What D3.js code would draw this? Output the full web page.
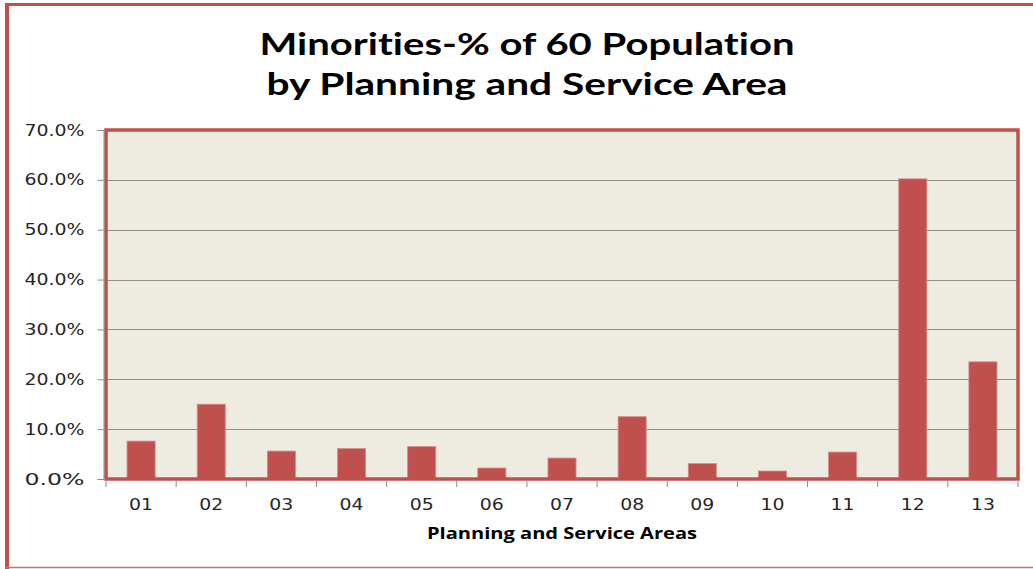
<!DOCTYPE html>
<html>
<head>
<meta charset="utf-8">
<script src="https://cdn.jsdelivr.net/npm/d3@7/dist/d3.min.js"></script>
<style>
  html, body { margin: 0; padding: 0; background: #fff; }
  svg { display: block; }
  text { font-variant-ligatures: none; }
</style>
</head>
<body>
<svg id="chart" width="1033" height="569"></svg>
<script>
// Planning and Service Areas and the minority share of their 60+ population
const areas = ["01", "02", "03", "04", "05", "06", "07", "08", "09", "10", "11", "12", "13"];
const minorityShare = [0.076, 0.150, 0.056, 0.061, 0.065, 0.022, 0.042, 0.125, 0.031, 0.016, 0.054, 0.602, 0.235];
const yTicks = [0, 0.1, 0.2, 0.3, 0.4, 0.5, 0.6, 0.7];
const titleLines = ["Minorities-% of 60 Population", "by Planning and Service Area"];
const xAxisTitle = "Planning and Service Areas";

const RED = "#C0504D";
const svg = d3.select("#chart");

const plot = { left: 106, right: 1018, top: 130, bottom: 479 };

const x = d3.scaleBand()
  .domain(areas)
  .range([plot.left, plot.right])
  .paddingInner(0.6)
  .paddingOuter(0.3);

const y = d3.scaleLinear()
  .domain([0, 0.7])
  .range([plot.bottom, plot.top]);

// outer chart frame (left, top and bottom edges)
svg.append("line").attr("x1", 7).attr("x2", 7).attr("y1", 3).attr("y2", 569)
  .attr("stroke", RED).attr("stroke-width", 4);
svg.append("line").attr("x1", 5).attr("x2", 1033).attr("y1", 4.5).attr("y2", 4.5)
  .attr("stroke", RED).attr("stroke-width", 3);
svg.append("line").attr("x1", 5).attr("x2", 1033).attr("y1", 567.5).attr("y2", 567.5)
  .attr("stroke", "#d06e6a").attr("stroke-width", 1.5);

// title
const title = svg.append("text")
  .attr("text-anchor", "middle")
  .attr("font-family", "Lato, Liberation Sans, Arial, sans-serif")
  .attr("font-weight", "bold")
  .attr("font-size", 31)
  .attr("fill", "#000");
title.append("tspan").attr("x", 527).attr("y", 55)
  .attr("textLength", 535).attr("lengthAdjust", "spacingAndGlyphs")
  .text(titleLines[0]);
title.append("tspan").attr("x", 527).attr("y", 95)
  .attr("textLength", 521).attr("lengthAdjust", "spacingAndGlyphs")
  .text(titleLines[1]);

// plot background
svg.append("rect")
  .attr("x", plot.left).attr("y", plot.top)
  .attr("width", plot.right - plot.left).attr("height", plot.bottom - plot.top)
  .attr("fill", "#EEEBE0");

// horizontal gridlines
svg.append("g")
  .selectAll("line")
  .data(yTicks.filter(t => t > 0 && t < 0.7))
  .join("line")
  .attr("x1", plot.left).attr("x2", plot.right)
  .attr("y1", d => Math.round(y(d)) + 0.5).attr("y2", d => Math.round(y(d)) + 0.5)
  .attr("stroke", "#8f8f8f").attr("stroke-width", 1.2);

// bars
svg.append("g")
  .selectAll("rect")
  .data(areas.map((a, i) => ({ area: a, value: minorityShare[i] })))
  .join("rect")
  .attr("x", d => x(d.area))
  .attr("width", x.bandwidth())
  .attr("y", d => y(d.value))
  .attr("height", d => y(0) - y(d.value))
  .attr("fill", RED)
  .attr("stroke", "#d88a87")
  .attr("stroke-width", 0.8);

// plot frame
svg.append("rect")
  .attr("x", plot.left).attr("y", plot.top)
  .attr("width", plot.right - plot.left).attr("height", plot.bottom - plot.top)
  .attr("fill", "none")
  .attr("stroke", RED).attr("stroke-width", 3.5);

// y axis
const yAxis = svg.append("g")
  .attr("transform", `translate(${plot.left - 2.5},0)`)
  .call(d3.axisLeft(y).tickValues(yTicks).tickFormat(d3.format(".1%")).tickSize(6).tickPadding(13));
yAxis.select(".domain").attr("stroke", "#8a8a8a");
yAxis.selectAll(".tick line").attr("stroke", "#8a8a8a");
yAxis.selectAll(".tick text")
  .attr("font-family", "DejaVu Sans, Verdana, sans-serif")
  .attr("font-size", 16)
  .attr("textLength", 60)
  .attr("lengthAdjust", "spacingAndGlyphs")
  .attr("fill", "#262626");

// x axis: ticks sit on category boundaries
const step = x.step();
const boundaries = areas.map(a => x(a) - (step - x.bandwidth()) / 2).concat([plot.right]);
const xAxis = svg.append("g").attr("transform", `translate(0,${plot.bottom + 2})`);
xAxis.selectAll("line.tick")
  .data(boundaries)
  .join("line")
  .attr("class", "tick")
  .attr("x1", d => d).attr("x2", d => d)
  .attr("y1", 0).attr("y2", 6)
  .attr("stroke", "#8a8a8a");
xAxis.selectAll("text")
  .data(areas)
  .join("text")
  .attr("x", d => x(d) + x.bandwidth() / 2)
  .attr("y", 29)
  .attr("text-anchor", "middle")
  .attr("font-family", "DejaVu Sans, Verdana, sans-serif")
  .attr("font-size", 16.5)
  .attr("textLength", 24)
  .attr("lengthAdjust", "spacingAndGlyphs")
  .attr("fill", "#262626")
  .text(d => d);

// x axis title
svg.append("text")
  .attr("x", 562).attr("y", 539)
  .attr("text-anchor", "middle")
  .attr("font-family", "Open Sans, DejaVu Sans, sans-serif")
  .attr("font-weight", "bold")
  .attr("font-size", 16.5)
  .attr("textLength", 270)
  .attr("lengthAdjust", "spacingAndGlyphs")
  .attr("fill", "#000")
  .text(xAxisTitle);
</script>
</body>
</html>
